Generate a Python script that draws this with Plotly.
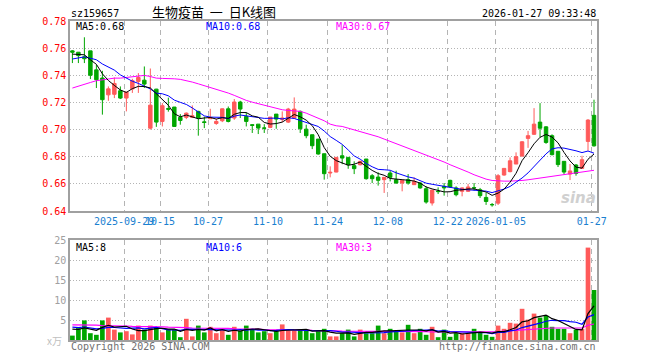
import plotly.graph_objects as go
import pandas as pd

# ---------------- data ----------------
tick_idx = [9, 15, 23, 33, 43, 53, 63, 71, 87]
tick_labels = ["2025-09-29", "10-15", "10-27", "11-10", "11-24",
               "12-08", "12-22", "2026-01-05", "01-27"]

opens = [0.758, 0.757, 0.7536, 0.758, 0.744, 0.738, 0.7256, 0.726, 0.7286, 0.7232,
         0.730, 0.7355, 0.7364, 0.701, 0.7298, 0.706, 0.7155, 0.7166, 0.709, 0.709,
         0.709, 0.7134, 0.7057, 0.708, 0.7045, 0.7065, 0.7153, 0.7085, 0.7203, 0.7097,
         0.7036, 0.704, 0.7012, 0.7016, 0.7114, 0.7075, 0.7055, 0.7085, 0.7134, 0.7003,
         0.6962, 0.693, 0.6822, 0.668, 0.6687, 0.6807, 0.6795, 0.6734, 0.6741, 0.6783,
         0.666, 0.665, 0.6631, 0.668, 0.6631, 0.6606, 0.6631, 0.6594, 0.6606, 0.6564,
         0.6459, 0.6545, 0.6582, 0.6626, 0.657, 0.6545, 0.6545, 0.6572, 0.6557, 0.650,
         0.6448, 0.6458, 0.6665, 0.669, 0.6746, 0.6805, 0.6935, 0.6965, 0.7055, 0.702,
         0.6955, 0.684, 0.6766, 0.6672, 0.6739, 0.6714, 0.6913, 0.7105]
highs = [0.7585, 0.757, 0.768, 0.758, 0.7477, 0.7433, 0.7318, 0.7384, 0.7318, 0.728,
         0.7374, 0.7416, 0.7465, 0.745, 0.730, 0.7195, 0.7235, 0.7166, 0.7114, 0.7126,
         0.7178, 0.7138, 0.7095, 0.7153, 0.708, 0.7155, 0.717, 0.7225, 0.7212, 0.7126,
         0.704, 0.704, 0.704, 0.7092, 0.7114, 0.7134, 0.716, 0.7237, 0.714, 0.7036,
         0.6962, 0.693, 0.6822, 0.6729, 0.6795, 0.6885, 0.6795, 0.6766, 0.677, 0.6783,
         0.6672, 0.6685, 0.665, 0.6697, 0.6697, 0.6631, 0.6672, 0.6648, 0.6611, 0.6582,
         0.6554, 0.6574, 0.6606, 0.663, 0.6582, 0.6574, 0.660, 0.6606, 0.657, 0.6535,
         0.6459, 0.6672, 0.6716, 0.6795, 0.6832, 0.6915, 0.699, 0.7158, 0.7195, 0.7025,
         0.6965, 0.684, 0.6766, 0.6746, 0.6746, 0.6807, 0.7077, 0.722]
lows = [0.749, 0.749, 0.749, 0.7372, 0.7306, 0.711, 0.7212, 0.7232, 0.7225, 0.7134,
        0.727, 0.727, 0.7306, 0.700, 0.702, 0.7023, 0.7132, 0.702, 0.7036, 0.7077,
        0.7085, 0.6955, 0.7011, 0.708, 0.7035, 0.7055, 0.7053, 0.7072, 0.7085, 0.7023,
        0.6975, 0.6967, 0.6975, 0.7011, 0.7006, 0.7055, 0.7048, 0.7085, 0.6975, 0.6936,
        0.6856, 0.6815, 0.6631, 0.6648, 0.6685, 0.6745, 0.6711, 0.6672, 0.6736, 0.6631,
        0.6606, 0.6587, 0.6533, 0.6618, 0.6601, 0.6545, 0.6594, 0.6594, 0.6564, 0.6454,
        0.644, 0.6525, 0.6513, 0.657, 0.6508, 0.6508, 0.654, 0.655, 0.6496, 0.6445,
        0.6432, 0.6444, 0.666, 0.6685, 0.6746, 0.680, 0.6865, 0.6962, 0.6942, 0.6895,
        0.681, 0.6724, 0.667, 0.6628, 0.666, 0.671, 0.6844, 0.6875]
closes = [0.757, 0.7545, 0.7522, 0.740, 0.7367, 0.722, 0.730, 0.734, 0.7232, 0.7276,
          0.736, 0.7384, 0.7335, 0.718, 0.7055, 0.7176, 0.7150, 0.7023, 0.7067, 0.7121,
          0.7102, 0.7085, 0.7052, 0.7087, 0.706, 0.7153, 0.706, 0.7203, 0.7151, 0.706,
          0.7031, 0.7011, 0.701, 0.7092, 0.7077, 0.7085, 0.7151, 0.7151, 0.7006, 0.6955,
          0.6881, 0.682, 0.6675, 0.6685, 0.6795, 0.679, 0.6741, 0.6712, 0.6766, 0.6638,
          0.6638, 0.6626, 0.6648, 0.6648, 0.6606, 0.6626, 0.6606, 0.6618, 0.657, 0.6466,
          0.6554, 0.6543, 0.657, 0.6577, 0.652, 0.657, 0.6577, 0.657, 0.6513, 0.647,
          0.6446, 0.666, 0.6714, 0.677, 0.680, 0.691, 0.6955, 0.704, 0.701, 0.6905,
          0.6815, 0.6742, 0.6687, 0.6695, 0.6677, 0.6778, 0.707, 0.688]
volumes = [1.1, 3.0, 4.9, 1.7, 1.3, 4.9, 5.6, 2.6, 1.9, 2.2,
           1.4, 3.6, 2.6, 3.6, 3.0, 1.9, 2.6, 2.6, 0.7, 5.3,
           0.9, 3.6, 1.9, 3.3, 1.7, 2.6, 1.3, 3.3, 2.3, 3.6,
           2.8, 1.9, 2.2, 1.7, 2.2, 3.9, 2.3, 2.3, 2.6, 2.3,
           1.7, 2.2, 2.8, 0.9, 0.9, 1.7, 2.6, 0.9, 2.6, 1.7,
           1.7, 3.6, 1.7, 2.8, 2.3, 1.9, 3.8, 1.7, 2.8, 1.3,
           3.3, 0.7, 2.6, 0.8, 1.7, 1.7, 1.7, 2.8, 1.9, 1.3,
           0.8, 3.6, 2.8, 4.3, 4.1, 7.8, 5.1, 6.6, 5.6, 6.1,
           3.3, 2.8, 2.8, 1.7, 2.6, 2.8, 23.1, 12.5]
# MA30 lines as drawn (they depend on days before the visible window)
ma30 = [0.7306, 0.7318, 0.7335, 0.7347, 0.736, 0.7367, 0.7372, 0.7379, 0.7379, 0.7384,
        0.7391, 0.7399, 0.7399, 0.7391, 0.7379, 0.7377, 0.7377, 0.7374, 0.737, 0.7362,
        0.735, 0.7337, 0.7323, 0.731, 0.7298, 0.7286, 0.7269, 0.7252, 0.7232, 0.7215,
        0.7202, 0.719, 0.7178, 0.7166, 0.7153, 0.7146, 0.7141, 0.7139, 0.7134, 0.7121,
        0.7104, 0.7085, 0.7065, 0.704, 0.7028, 0.7023, 0.7011, 0.6999, 0.6987, 0.6974,
        0.6962, 0.6947, 0.693, 0.6913, 0.6898, 0.6883, 0.6864, 0.6844, 0.6827, 0.681,
        0.6795, 0.6778, 0.6761, 0.6741, 0.6724, 0.6704, 0.6687, 0.6667, 0.665, 0.6635,
        0.6625, 0.662, 0.662, 0.662, 0.662, 0.6625, 0.663, 0.6636, 0.6643, 0.665,
        0.6657, 0.6663, 0.667, 0.6675, 0.668, 0.6686, 0.6693, 0.670]
vol_ma30 = [3.8, 3.8, 3.7, 3.7, 3.7, 3.6, 3.6, 3.6, 3.5, 3.5,
            3.4, 3.4, 3.4, 3.3, 3.3, 3.3, 3.2, 3.2, 3.1, 3.1,
            3.0, 3.0, 3.0, 3.0, 2.9, 2.9, 2.9, 2.8, 2.8, 2.7,
            2.7, 2.7, 2.6, 2.6, 2.6, 2.6, 2.5, 2.5, 2.5, 2.5,
            2.4, 2.4, 2.3, 2.3, 2.3, 2.2, 2.2, 2.2, 2.2, 2.2,
            2.2, 2.2, 2.2, 2.2, 2.2, 2.1, 2.1, 2.1, 2.1, 2.1,
            2.0, 2.0, 2.0, 2.0, 2.0, 2.0, 2.0, 2.0, 2.0, 2.0,
            2.1, 2.1, 2.2, 2.3, 2.4, 2.5, 2.6, 2.8, 2.9, 3.0,
            3.0, 3.0, 3.0, 3.0, 3.0, 3.0, 3.7, 4.0]
# closes / volumes just before the window, inferred from where the MA5/MA10 lines start
prior_closes = [0.744, 0.747, 0.750, 0.748, 0.753, 0.7545, 0.7547, 0.7585, 0.7533]
prior_volumes = [3.9, 3.5, 4.0, 3.6, 3.5, 3.4, 2.9, 3.3, 2.8]

# ---------------- derived series ----------------
n = len(closes)
x = list(range(n))
np_ = len(prior_closes)
c_all = pd.Series(prior_closes + closes)
ma5 = c_all.rolling(5).mean().iloc[np_:].tolist()
ma10 = c_all.rolling(10).mean().iloc[np_:].tolist()
v_all = pd.Series(prior_volumes + volumes)
vma5 = v_all.rolling(5).mean().iloc[np_:].tolist()
vma10 = v_all.rolling(10).mean().iloc[np_:].tolist()

RED = "#ff5a5a"
GREEN = "#00a600"
MONO = "DejaVu Sans Mono"
CJK = "Noto Sans CJK SC"

fig = go.Figure()
fig.add_trace(go.Candlestick(
    x=x, open=opens, high=highs, low=lows, close=closes,
    increasing=dict(line=dict(color=RED, width=1), fillcolor=RED),
    decreasing=dict(line=dict(color=GREEN, width=1), fillcolor=GREEN),
    whiskerwidth=0, hoverinfo="skip", xaxis="x", yaxis="y"))
for ser, col in [(ma30, "#ff00ff"), (ma10, "#0000ff"), (ma5, "#000000")]:
    fig.add_trace(go.Scatter(x=x, y=ser, mode="lines", line=dict(color=col, width=1),
                             hoverinfo="skip", xaxis="x", yaxis="y"))

bar_cols = [RED if c >= o else GREEN for o, c in zip(opens, closes)]
fig.add_trace(go.Bar(x=x, y=volumes, marker=dict(color=bar_cols, line=dict(width=0)),
                     width=0.78, hoverinfo="skip", xaxis="x2", yaxis="y2"))
for ser, col in [(vol_ma30, "#ff00ff"), (vma10, "#0000ff"), (vma5, "#000000")]:
    fig.add_trace(go.Scatter(x=x, y=ser, mode="lines", line=dict(color=col, width=1.2),
                             hoverinfo="skip", xaxis="x2", yaxis="y2"))

L, R, T, B = 70, 63, 21, 20
W, H = 660, 360
PW, PH = W - L - R, H - T - B


def px(v):
    return (v - L) / PW


def py(v):
    return 1 - (v - T) / PH


FRAME = "#a0a0a0"
GRID = "#b4b4b4"
xr = [-0.4, 87.5]
gv = [i - 0.38 for i in tick_idx]

common_x = dict(range=xr, tickvals=gv, showgrid=True, gridcolor=GRID, griddash="5px,4px",
                gridwidth=1, showline=True, mirror=True, linecolor=FRAME, linewidth=1.5,
                ticks="", zeroline=False, fixedrange=True, tickangle=0)
fig.update_layout(
    width=W, height=H, margin=dict(l=L, r=R, t=T, b=B, autoexpand=False),
    paper_bgcolor="white", plot_bgcolor="white", showlegend=False, boxgap=0.18,
    xaxis=dict(common_x, domain=[0, 1], anchor="y", ticktext=tick_labels,
               tickfont=dict(family=MONO, size=10, color="#1a80d0"),
               rangeslider=dict(visible=False)),
    yaxis=dict(domain=[py(211), 1], anchor="x", range=[0.64, 0.78], tick0=0.64, dtick=0.02,
               tickformat=".2f", showgrid=True, gridcolor=GRID, griddash="1px,2px",
               showline=True, mirror=True, linecolor=FRAME, linewidth=1.5, ticks="",
               zeroline=False, fixedrange=True,
               tickfont=dict(family=MONO, size=10, color="#ff0000")),
    xaxis2=dict(common_x, domain=[0, 1], anchor="y2", showticklabels=False),
    yaxis2=dict(domain=[0, py(240)], anchor="x2", range=[0, 25], tickvals=[5, 10, 15, 20, 25],
                showgrid=True, gridcolor=GRID, griddash="1px,2px", showline=True, mirror=True,
                linecolor=FRAME, linewidth=1.5, ticks="", zeroline=False, fixedrange=True,
                tickfont=dict(family=MONO, size=10, color="#a0a0a0")),
)

ann = []


def text(s, xp, yp, color="#000000", size=10, family=MONO, anchor="left", **kw):
    ann.append(dict(text=s, x=px(xp), y=py(yp), xref="paper", yref="paper",
                    xanchor=anchor, yanchor="middle", showarrow=False,
                    font=dict(family=family, size=size, color=color), **kw))


NB = "\u00a0"
text("sz159657", 69, 13)
text("生物疫苗" + NB * 2 + "一" + NB * 2 + "日K线图", 214, 12, size=13, family=CJK, anchor="center")
text("2026-01-27 09:33:48", 598, 13, anchor="right")
text("MA5:" + f"{ma5[-1]:.2f}", 74, 27)
text("MA10:" + f"{ma10[-1]:.2f}", 204, 27, color="#0000ff")
text("MA30:" + f"{ma30[-1]:.2f}", 334, 27, color="#ff00ff")
text("MA5:" + str(int(vma5[-1])), 74, 247)
text("MA10:" + str(int(vma10[-1])), 204, 247, color="#0000ff")
text("MA30:3", 334, 247, color="#ff00ff")
text("x万", 64, 340, color="#c0c0c0", family=CJK, anchor="right")
text("Copyright 2026 SINA.COM", 69, 346, color="#707070")
text("http://finance.sina.com.cn", 598, 346, color="#707070", anchor="right")
text("<b><i>sina</i></b>", 598, 198, color="#d0d0d0", size=15, family="DejaVu Sans", anchor="right")
fig.update_layout(annotations=ann)

fig.write_html("out.html", config={"displayModeBar": False},
               post_script="document.body.style.margin='0';")
